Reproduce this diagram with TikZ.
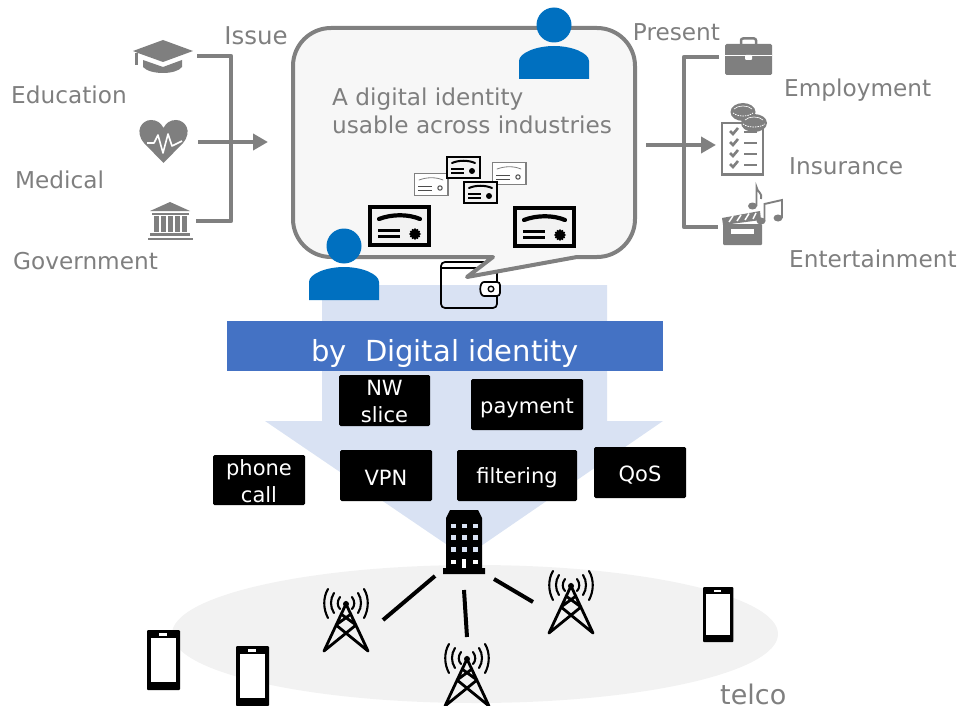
\documentclass[tikz,border=0pt]{standalone}
\usepackage{fontspec}
\setmainfont{DejaVu Sans}
\usetikzlibrary{arrows.meta,shapes.geometric,calc}
\definecolor{txtgray}{HTML}{7F7F7F}
\definecolor{linegray}{HTML}{808080}
\definecolor{bubblefill}{HTML}{F7F7F7}
\definecolor{arrowblue}{HTML}{D9E2F3}
\definecolor{bannerblue}{HTML}{4472C4}
\definecolor{personblue}{HTML}{0070C0}
\definecolor{cellgray}{HTML}{F2F2F2}
\tikzset{
  x=1pt,y=-1pt,
  lbl/.style={text=txtgray,font=\fontsize{23.2}{27}\selectfont,inner sep=0pt},
  tbox/.style={fill=black,rounded corners=1.5pt,inner sep=0pt},
  tboxtext/.style={text=white,font=\fontsize{21}{27}\selectfont,align=center,inner sep=0pt},
  brk/.style={draw=linegray,line width=4.5pt,line join=round},
  wire/.style={draw=black,line width=4pt},
  pics/person/.style={code={
    \fill[personblue] (0,-21) circle[radius=17.5];
    \fill[personblue] (-35,33) -- (-35,15) .. controls (-35,7) and (-18,0) .. (0,0) .. controls (18,0) and (35,7) .. (35,15) -- (35,33) -- cycle;
  }},
  pics/phone/.style={code={
    \fill[black,rounded corners=1pt] (0,0) rectangle (33,60);
    \fill[white] (3.5,8) rectangle (29,52);
    \fill[white] (12,3) rectangle (20,5.5);
  }},
  pics/tower/.style={code={
    \draw[black,line width=2.8pt,line cap=round] (-22,47) -- (0,0) -- (22,47) (-22,47) -- (10,21) (22,47) -- (-10,21) (-10,21) -- (5,10) (10,21) -- (-5,10);
    \fill[black] (0,0) circle[radius=3];
    \foreach \s in {1,-1}{
      \draw[black,line width=2.1pt,line cap=round]
        (\s*6,-7) .. controls (\s*9,-3) and (\s*9,2) .. (\s*6,5)
        (\s*12,-11) .. controls (\s*16,-5) and (\s*16,3) .. (\s*12,9)
        (\s*18,-15) .. controls (\s*23,-7) and (\s*23,5) .. (\s*18,14);
    }
  }},
  pics/certbig/.style={code={
    \draw[black,line width=4.5pt,fill=cellgray] (2,2) rectangle (61,40);
    \draw[black,line width=4.2pt,line cap=round] (11,14) .. controls (24,9) and (40,9) .. (52,14);
    \draw[black,line width=3pt] (10,25.5) -- (32,25.5) (10,31.5) -- (32,31.5);
    \node[star,star points=12,star point ratio=1.3,fill=black,minimum size=12pt,inner sep=0pt] (#1) at (47,29) {};
  }},
  pics/certblack/.style={code={
    \draw[black,line width=2.5pt,fill=cellgray] (1,1) rectangle (34,22);
    \draw[black,line width=2pt,line cap=round] (6,7) .. controls (13,4) and (22,4) .. (29,7);
    \draw[black,line width=1.7pt] (5,13) -- (18,13) (5,17) -- (18,17);
    \fill[black] (26,15) circle[radius=3];
  }},
  pics/certgray/.style={code={
    \draw[linegray,line width=1.1pt,fill=white] (0.5,0.5) rectangle (34,22.5);
    \draw[linegray,line width=.8pt,line cap=round] (5,7) .. controls (13,4) and (22,4) .. (29,7);
    \draw[black!70,line width=.8pt] (4,13) -- (18,13) (4,17) -- (18,17);
    \draw[black!70,line width=1pt] (26,15) circle[radius=2.2];
  }},
}
\begin{document}
\begin{tikzpicture}
\useasboundingbox (0,0) rectangle (959,706);
% ellipse
\fill[cellgray] (475,634) ellipse[x radius=303,y radius=69];
% down arrow
\fill[arrowblue] (322,285) -- (607,285) -- (607,421) -- (663,421) -- (465,557) -- (265,421) -- (322,421) -- cycle;
% wallet
\draw[black,line width=1.7pt,rounded corners=4pt] (441,262) rectangle (497,308);
\draw[black,line width=1.2pt] (441,268) -- (497,268);
\draw[black,line width=1.7pt,fill=white,rounded corners=3pt] (500,282) -- (487,282) .. controls (479,282) and (479,296) .. (487,296) -- (500,296) -- cycle;
\draw[black,line width=1.4pt] (491,289) circle[radius=2.8];
% bubble
\draw[draw=linegray,line width=4pt,fill=bubblefill,line join=round]
  (293,66) .. controls (293,45) and (310,28) .. (331,28) -- (597,28)
  .. controls (618,28) and (635,45) .. (635,66) -- (635,219)
  .. controls (635,240) and (618,257) .. (597,257) -- (577,257)
  -- (467,277) -- (493,257) -- (331,257)
  .. controls (310,257) and (293,240) .. (293,219) -- cycle;
\node[lbl,anchor=west,align=left,font=\fontsize{23.2}{28.5}\selectfont] (claim) at (332,111) {A digital identity\\usable across industries};
\pic at (554,46) {person};
\pic at (344,267) {person};
\pic at (368,205) {certbig=sealA};
\pic at (513,206) {certbig=sealB};
\pic at (414,173) {certgray};
\pic at (492,162) {certgray};
\pic at (446,156) {certblack};
\pic at (463,181) {certblack};
% labels
\node[lbl,font=\fontsize{24.5}{27}\selectfont] (issue) at (256,36) {Issue};
\node[lbl] (present) at (676.5,32) {Present};
\node[lbl,anchor=west] (edu) at (11,95) {Education};
\node[lbl,anchor=west] (med) at (15,180) {Medical};
\node[lbl,anchor=west] (gov) at (13,261) {Government};
\node[lbl,anchor=west] (emp) at (784,90) {Employment};
\node[lbl,anchor=west] (ins) at (789,166) {Insurance};
\node[lbl,anchor=west] (ent) at (789,259) {Entertainment};
\node[lbl,anchor=base west,font=\fontsize{27}{30}\selectfont] (telco) at (720,704) {telco};
% cap
\fill[txtgray] (133,51) -- (163,40) -- (193,51) -- (163,62) -- (138,53) -- cycle;
\fill[txtgray] (135,53) rectangle (137.5,65);
\fill[txtgray] (143,60) -- (163,67) -- (182,60) -- (182,67) .. controls (176,75) and (150,75) .. (143,67) -- cycle;
% heart
\fill[txtgray] (163.5,163) -- (144,143) .. controls (134,131) and (142,120) .. (151,120) .. controls (157,120) and (161,123) .. (163.5,128) .. controls (166,123) and (170,120) .. (176,120) .. controls (185,120) and (193,131) .. (183,143) -- cycle;
\draw[white,line width=1.6pt,line join=round] (147,143) -- (154,143) -- (158,135) -- (163,153) -- (168,134) -- (172,146) -- (182,141);
% bank
\fill[txtgray] (150,211) -- (170,202) -- (190,211) -- cycle;
\fill[txtgray] (152,213) rectangle (189,215);
\foreach \cx in {154,161,168,175,182}{\fill[txtgray] (\cx,216) rectangle (\cx+4.5,232);}
\fill[txtgray] (150,233) rectangle (190,235.5);
\fill[txtgray] (148,237.5) rectangle (193,240);
% left bracket
\coordinate (capEnd) at (197,56);
\coordinate (bankEnd) at (196,221);
\coordinate (heartEnd) at (198,142);
\coordinate (inTip) at (268,142);
\draw[brk] (capEnd) -- (231,56) -- (231,221) -- (bankEnd);
\draw[draw=linegray,line width=4.5pt,-{Triangle[length=15pt,width=16pt]}] (heartEnd) -- (inTip);
% right bracket
\coordinate (caseEnd) at (719,57);
\coordinate (clapEnd) at (718,227);
\coordinate (outStart) at (646,145);
\coordinate (outTip) at (716,145);
\draw[brk] (caseEnd) -- (684,57) -- (684,227) -- (clapEnd);
\draw[draw=linegray,line width=4pt,-{Triangle[length=15pt,width=16pt]}] (outStart) -- (outTip);
% briefcase
\draw[txtgray,line width=2.5pt,rounded corners=2pt] (741,46) -- (741,38.5) -- (756,38.5) -- (756,46);
\fill[txtgray,rounded corners=1.5pt] (725,44) rectangle (772,75);
\fill[white] (725,55) rectangle (772,56.5);
\fill[white,rounded corners=1pt] (745,55) rectangle (752,60);
% clipboard
\draw[txtgray,line width=2.2pt,fill=white] (722,123) rectangle (763,174.5);
\foreach \yy/\ly in {132/132,143/143,154/154,165/165}{
  \draw[txtgray,line width=2.6pt] (730,\yy-1) -- (733,\yy+2) -- (738,\yy-4);
  \draw[txtgray,line width=2.6pt] (744,\ly) -- (757,\ly);
}
\fill[txtgray] (743,112) ellipse[x radius=12.5,y radius=9];
\fill[txtgray] (754,123) ellipse[x radius=13,y radius=9];
\draw[white,line width=.8pt,dash pattern=on 1.5pt off 1pt] (733,113) .. controls (738,117) and (748,117) .. (753,113) (743,124) .. controls (748,128) and (760,128) .. (765,124);
\draw[white,line width=.6pt] (734,109) .. controls (738,105) and (748,105) .. (752,109);
\draw[white,line width=.6pt] (745,120) .. controls (749,116) and (759,116) .. (763,120);
% clapper and notes
\fill[txtgray,rounded corners=1pt] (723,224) rectangle (762,245);
\fill[white] (731,229) rectangle (754,234);
\fill[txtgray] (722,218) -- (760,211) -- (761,220) -- (723,225) -- cycle;
\draw[white,line width=1.5pt] (729,222) -- (733,216) (737,221) -- (741,215) (745,220) -- (749,213.5) (753,219) -- (756,213);
\fill[txtgray] (752.5,206) ellipse[x radius=4.5,y radius=3.5];
\draw[txtgray,line width=1.9pt] (756.5,206) -- (756.5,187) .. controls (757,192) and (763,193) .. (761,199);
\fill[txtgray] (761,221) ellipse[x radius=4.5,y radius=3.5];
\fill[txtgray] (778,218) ellipse[x radius=4.5,y radius=3.5];
\draw[txtgray,line width=1.9pt] (764.5,221) -- (764.5,204) -- (782,200) -- (782,218);
% banner and function boxes
\node[fill=bannerblue,minimum width=436pt,minimum height=50pt,inner sep=0pt] (banner) at (445,346) {};
\node[text=white,inner sep=0pt,font=\fontsize{29}{34}\selectfont] (bannertext) at (445,353) {by\ \ Digital identity};
\node[tbox,minimum width=91pt,minimum height=51pt] (nw) at (384.5,400.5) {};
\node[tboxtext] (nwt) at (384.5,401.5) {NW\\slice};
\node[tbox,minimum width=112pt,minimum height=51pt] (pay) at (527,404.5) {};
\node[tboxtext] (payt) at (527,408.5) {payment};
\node[tbox,minimum width=92pt,minimum height=50pt] (call) at (259,480) {};
\node[tboxtext] (callt) at (259,481.5) {phone\\call};
\node[tbox,minimum width=92pt,minimum height=51pt] (vpn) at (386,475.5) {};
\node[tboxtext] (vpnt) at (386,477.5) {VPN};
\node[tbox,minimum width=120pt,minimum height=51pt] (filt) at (517,475.5) {};
\node[tboxtext] (filtt) at (517,477.5) {filtering};
\node[tbox,minimum width=92pt,minimum height=51pt] (qos) at (640,472.5) {};
\node[tboxtext] (qost) at (640,475.5) {QoS};
% building
\fill[black] (450,510) -- (478,510) -- (480,514) -- (482,518) -- (482,568) -- (485,568) -- (485,574) -- (443,574) -- (443,568) -- (446,568) -- (446,518) -- (448,514) -- cycle;
\foreach \wx in {451,462,473}{\foreach \wy in {523.5,535,547}{\fill[arrowblue] (\wx,\wy) rectangle (\wx+4.5,\wy+4.5);}}
\fill[white] (451,559.5) rectangle (455.5,564);
\fill[white] (473,559.5) rectangle (477.5,564);
\fill[white] (461.5,559) rectangle (466,568);
% towers
\pic at (346,604) {tower};
\pic at (467,659) {tower};
\pic at (571,586) {tower};
\coordinate (bl1) at (435,576);
\coordinate (bl2) at (464,590);
\coordinate (bl3) at (494,579);
\coordinate (tw1) at (383,620);
\coordinate (tw2) at (467,637);
\coordinate (tw3) at (533,602);
\draw[wire] (bl1) -- (tw1);
\draw[wire] (bl2) -- (tw2);
\draw[wire] (bl3) -- (tw3);
% phones
\pic at (147,630) {phone};
\pic at (236,646) {phone};
\pic[scale=.92] at (703,587) {phone};
\end{tikzpicture}
\end{document}
